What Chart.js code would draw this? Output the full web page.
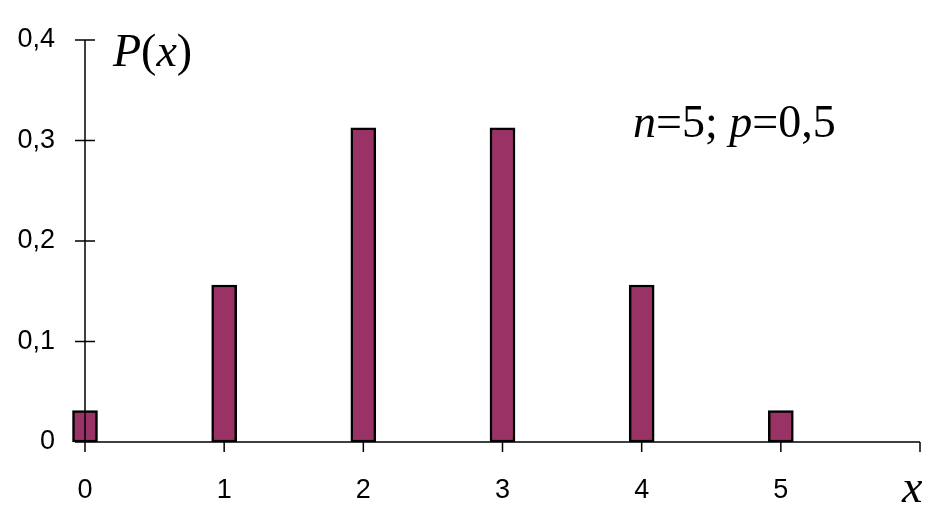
<!DOCTYPE html>
<html>
<head>
<meta charset="utf-8">
<script src="https://cdn.jsdelivr.net/npm/chart.js@4"></script>
<style>
  html, body { margin: 0; padding: 0; background: #fff; }
  #wrap { width: 944px; height: 529px; }
</style>
</head>
<body>
<div id="wrap"><canvas id="chart" width="944" height="529"></canvas></div>
<script>
// ─── DATA ─────────────────────────────────────────────────────────────────────
const xValues       = [0, 1, 2, 3, 4, 5]
const probabilities = [0.03125, 0.15625, 0.3125, 0.3125, 0.15625, 0.03125]
const xTicks        = [0, 1, 2, 3, 4, 5, 6]
const xTickLabels   = ["0", "1", "2", "3", "4", "5", ""]
const yTicks        = [0, 0.1, 0.2, 0.3, 0.4]
const yTickLabels   = ["0", "0,1", "0,2", "0,3", "0,4"]

const SERIF = "'Liberation Serif', 'Times New Roman', serif"
const SANS  = "'Liberation Sans', Arial, sans-serif"

// draw a run of text pieces, some italic, left to right
function drawPieces(ctx, pieces, x, y, size) {
  let cx = x
  pieces.forEach(([txt, italic]) => {
    ctx.font = `${italic ? "italic " : ""}${size}px ${SERIF}`
    ctx.fillText(txt, cx, y)
    cx += ctx.measureText(txt).width
  })
}

// ─── AXES + LABELS PLUGIN ─────────────────────────────────────────────────────
const axesPlugin = {
  id: "axes",
  afterDraw(chart) {
    const { ctx, scales: { x, y } } = chart
    const x0 = x.getPixelForValue(0)
    const xEnd = x.getPixelForValue(6)
    const y0 = y.getPixelForValue(0)
    const yTop = y.getPixelForValue(0.4)

    ctx.save()
    ctx.strokeStyle = "#000"
    ctx.lineWidth = 1.5
    ctx.beginPath()
    // y axis
    ctx.moveTo(x0, yTop)
    ctx.lineTo(x0, y0)
    // x axis
    ctx.moveTo(x0, y0)
    ctx.lineTo(xEnd, y0)
    // y ticks cross the axis
    yTicks.forEach(v => {
      const py = y.getPixelForValue(v)
      ctx.moveTo(x0 - 10, py)
      ctx.lineTo(x0 + 10, py)
    })
    // x ticks below the axis
    xTicks.forEach(v => {
      const px = x.getPixelForValue(v)
      ctx.moveTo(px, y0)
      ctx.lineTo(px, y0 + 10)
    })
    ctx.stroke()

    ctx.fillStyle = "#000"
    ctx.textBaseline = "alphabetic"
    ctx.textAlign = "left"
    drawPieces(ctx, [["P", true], ["(", false], ["x", true], [")", false]], 113, 66, 46)
    drawPieces(ctx, [["n", true], ["=5; ", false], ["p", true], ["=0,5", false]], 633, 137, 46)
    drawPieces(ctx, [["x", true]], 902, 502, 46)
    ctx.restore()
  }
}

// ─── CHART ────────────────────────────────────────────────────────────────────
new Chart(document.getElementById("chart"), {
  type: "bar",
  data: {
    datasets: [{
      data: xValues.map((v, i) => ({ x: v, y: probabilities[i] })),
      backgroundColor: "#993366",
      borderColor: "#000",
      borderWidth: 2.5,
      borderSkipped: false,
      barThickness: 25,
      clip: false,
    }]
  },
  options: {
    responsive: false,
    animation: false,
    layout: { padding: { top: 40, right: 17, left: 0, bottom: 0 } },
    plugins: {
      legend:  { display: false },
      tooltip: { enabled: false },
    },
    scales: {
      x: {
        type: "linear",
        min: 0,
        max: 6,
        offset: false,
        grid:   { display: false, offset: false },
        border: { display: false },
        afterFit: s => { s.height = 87 },
        afterBuildTicks: s => { s.ticks = xTicks.map(v => ({ value: v })) },
        ticks: {
          color: "#000",
          font: { family: SANS, size: 27 },
          padding: 24,
          maxRotation: 0,
          autoSkip: false,
          callback: (v) => xTickLabels[xTicks.indexOf(v)] ?? "",
        },
      },
      y: {
        min: 0,
        max: 0.4,
        grid:   { display: false },
        border: { display: false },
        afterFit: s => { s.width = 85 },
        afterBuildTicks: s => { s.ticks = yTicks.map(v => ({ value: v })) },
        ticks: {
          color: "#000",
          font: { family: SANS, size: 27 },
          padding: 22,
          callback: (v) => yTickLabels[yTicks.findIndex(t => Math.abs(t - v) < 1e-9)] ?? "",
        },
      },
    },
  },
  plugins: [axesPlugin],
})
</script>
</body>
</html>
